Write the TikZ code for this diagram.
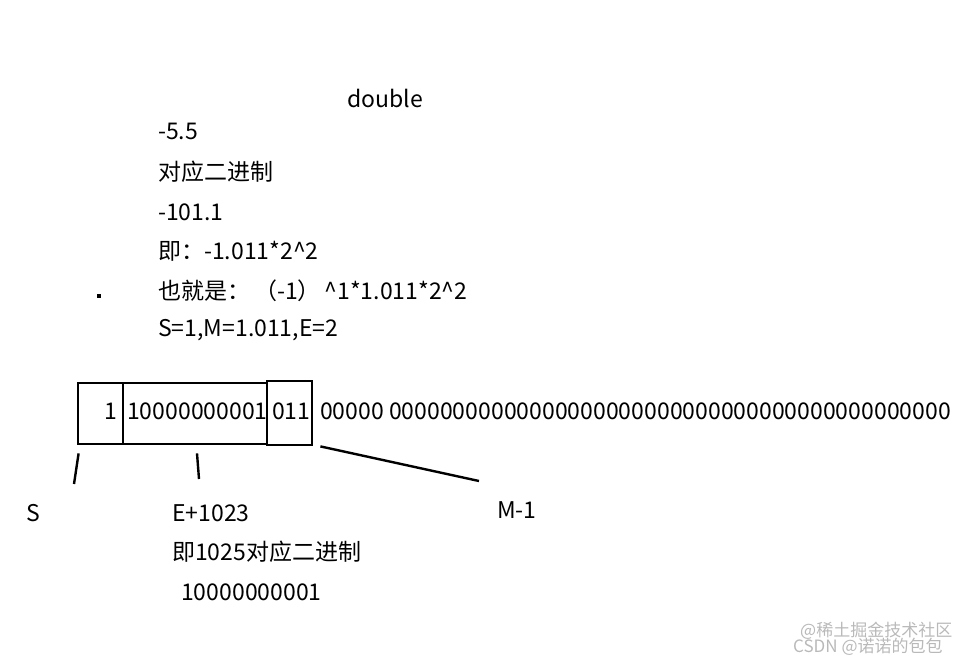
\documentclass[tikz,border=0pt]{standalone}
\usepackage{fontspec}
\setmainfont{Noto Sans CJK SC}
\usetikzlibrary{positioning}
\tikzset{
	bit box/.style={
		draw,
		line width=2.8pt,
		inner sep=0pt
	},
	txt/.style={
		anchor=west,
		inner sep=0pt,
		font=\fontsize{23}{27}\selectfont
	},
	pointer/.style={
		line width=2.4pt
	},
	wmark/.style={
		anchor=west,
		inner sep=0pt,
		gray!55,
		font=\fontsize{17}{20}\selectfont
	}
}

\begin{document}
\begin{tikzpicture}[x=1pt,y=-1pt]
	\useasboundingbox (0,0) rectangle (979,664);
	% worked example
	\node[txt,anchor=center] (title) at (385,98) {double};
	\node[txt] (val) at (158,131) {-5.5};
	\node[txt] (bin) at (158,172) {对应二进制};
	\node[txt] (binval) at (158,212) {-101.1};
	\node[txt] (sci) at (158,251) {即：-1.011*2\^{}2};
	\node[txt] (form) at (158,291) {也就是：\,（-1）\,\^{}1*1.011*2\^{}2};
	\node[txt] (sme) at (158,330) {S=1,M=1.011,E=2};
	\fill (97,294) rectangle (101,298);
	% the 64 bits
	\node[bit box,minimum width=45pt,minimum height=61pt] (sbox) at (100.5,413.5) {};
	\node[bit box,minimum width=144pt,minimum height=61pt] (ebox) at (195,413.5) {};
	\node[bit box,minimum width=45pt,minimum height=64pt] (mbox) at (289.5,413) {};
	\node[txt] (sbit) at (104,411) {1};
	\node[txt] (ebits) at (127,411) {10000000001};
	\node[txt] (mbits) at (272,411) {011};
	\node[txt] (rest) at (320,411) {00000 00000000000000000000000000000000000000000000};
	% pointers
	\coordinate (send) at (74,484);
	\coordinate (eend) at (199,479);
	\coordinate (mend) at (479,481);
	\draw[pointer] ([shift={(2pt,-8pt)}]sbox.south west) -- (send);
	\draw[pointer] ([shift={(2pt,-8pt)}]ebox.south) -- (eend);
	\draw[pointer] ([shift={(7pt,0pt)}]mbox.south east) -- (mend);
	\node[txt] (slab) at (26,513) {S};
	\node[txt] (elab) at (172,513) {E+1023};
	\node[txt] (mlab) at (497,510) {M-1};
	\node[txt] (enote) at (172,552) {即1025对应二进制};
	\node[txt] (ebin) at (181,592) {10000000001};
	% watermark
	\node[wmark] (wm1) at (800,631) {@稀土掘金技术社区};
	\node[wmark] (wm2) at (793,647) {CSDN @诺诺的包包};
\end{tikzpicture}
\end{document}
